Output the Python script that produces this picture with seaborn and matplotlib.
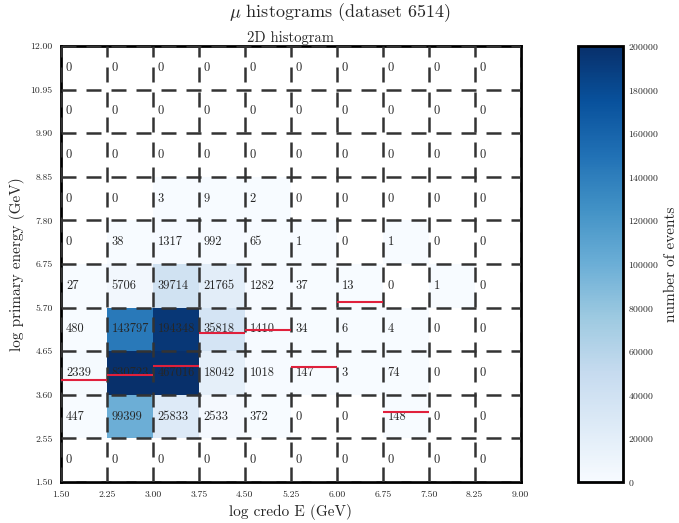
import numpy as np
import pandas as pd
import matplotlib
matplotlib.use("Agg")
import matplotlib.pyplot as plt
import seaborn as sns

# bin edges (log credo E, log primary energy)
x_edges = [1.50, 2.25, 3.00, 3.75, 4.50, 5.25, 6.00, 6.75, 7.50, 8.25, 9.00]
y_edges = [1.50, 2.55, 3.60, 4.65, 5.70, 6.75, 7.80, 8.85, 9.90, 10.95, 12.00]

# counts per y bin (bottom to top), one value per x bin
row_1 = [0, 0, 0, 0, 0, 0, 0, 0, 0, 0]
row_2 = [447, 99399, 25833, 2533, 372, 0, 0, 148, 0, 0]
row_3 = [2339, 830723, 467016, 18042, 1018, 147, 3, 74, 0, 0]
row_4 = [480, 143797, 194348, 35818, 1410, 34, 6, 4, 0, 0]
row_5 = [27, 5706, 39714, 21765, 1282, 37, 13, 0, 1, 0]
row_6 = [0, 38, 1317, 992, 65, 1, 0, 1, 0, 0]
row_7 = [0, 0, 3, 9, 2, 0, 0, 0, 0, 0]
row_8 = [0, 0, 0, 0, 0, 0, 0, 0, 0, 0]
row_9 = [0, 0, 0, 0, 0, 0, 0, 0, 0, 0]
row_10 = [0, 0, 0, 0, 0, 0, 0, 0, 0, 0]
rows = [row_1, row_2, row_3, row_4, row_5, row_6, row_7, row_8, row_9, row_10]

# mean primary energy per credo E bin (red profile)
profile_y = [3.95, 4.08, 4.30, 5.09, 5.16, 4.26, 5.84, 3.18, np.nan, np.nan]

xc = [(a + b) / 2 for a, b in zip(x_edges[:-1], x_edges[1:])]
yc = [(a + b) / 2 for a, b in zip(y_edges[:-1], y_edges[1:])]
df = pd.DataFrame([(xc[i], yc[j], rows[j][i]) for j in range(10) for i in range(10)],
                  columns=["x", "y", "n"])

sns.set_style("ticks")
plt.rcParams["font.family"] = "serif"
plt.rcParams["font.serif"] = ["cmr10", "DejaVu Serif"]
plt.rcParams["mathtext.fontset"] = "cm"
plt.rcParams["axes.formatter.use_mathtext"] = True
plt.rcParams["xtick.direction"] = "in"
plt.rcParams["ytick.direction"] = "in"

fig = plt.figure(figsize=(6.79, 5.23), dpi=100)
ax = fig.add_axes([0.0898, 0.0784, 0.677, 0.8336])
cax = fig.add_axes([0.851, 0.0784, 0.066, 0.8336])

sns.histplot(data=df, x="x", y="y", weights="n", bins=[x_edges, y_edges],
             cmap="Blues", vmin=0, vmax=200000,
             cbar=True, cbar_ax=cax, cbar_kws={"label": "number of events"}, ax=ax)

# cell labels
for j in range(10):
    for i in range(10):
        ax.text(x_edges[i] + 0.08, yc[j], str(rows[j][i]), ha="left", va="center",
                fontsize=9, zorder=4)

ax.hlines(profile_y, x_edges[:-1], x_edges[1:], colors="#e0203c", lw=1.5, zorder=5)

ax.set_xlim(1.5, 9.0)
ax.set_ylim(1.5, 12.0)
ax.set_xticks(x_edges)
ax.set_yticks(y_edges)
ax.set_xticklabels([f"{v:.2f}" for v in x_edges], fontsize=7)
ax.set_yticklabels([f"{v:.2f}" for v in y_edges], fontsize=7)
ax.tick_params(length=0, pad=6)
ax.set_axisbelow(False)
ax.grid(True, color="#333333", linestyle=(0, (6, 4)), lw=1.8)
for s in ax.spines.values():
    s.set_linewidth(2)
    s.set_color("black")
ax.set_xlabel("log credo E (GeV)", fontsize=11)
ax.set_ylabel("log primary energy (GeV)", fontsize=11)
ax.set_title("2D histogram", fontsize=10.5, pad=3)

cax.set_yticks(np.arange(0, 200001, 20000))
cax.tick_params(labelsize=7, direction="in", length=4, width=1, right=True)
cax.set_ylabel("number of events", fontsize=11, labelpad=4)
for s in cax.spines.values():
    s.set_linewidth(2)
    s.set_color("black")

fig.suptitle(r"$\mu$ histograms (dataset 6514)", fontsize=13, y=0.997)

fig.savefig("out.png", dpi=100)
